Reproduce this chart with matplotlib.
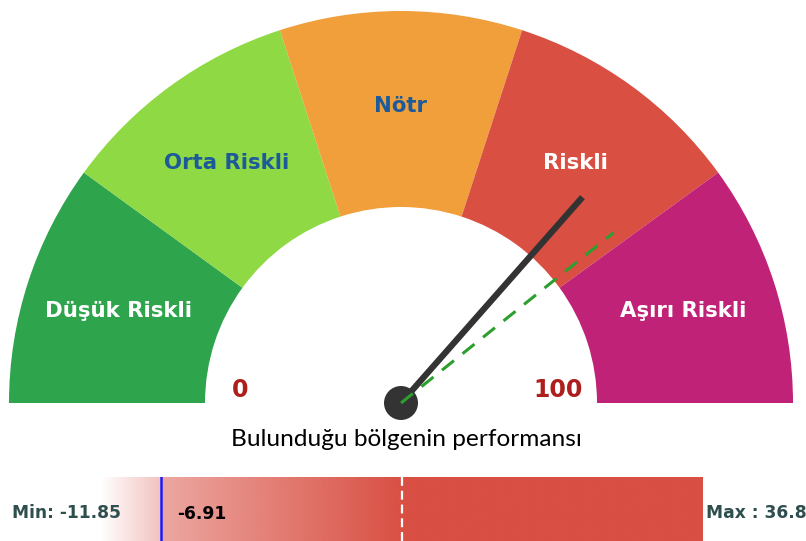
import numpy as np
import matplotlib
matplotlib.use("Agg")
import matplotlib.pyplot as plt
from matplotlib.patches import Wedge, Circle
from matplotlib.colors import to_rgb

# ===================== DATA =====================
zone_labels = ["Düşük Riskli", "Orta Riskli", "Nötr", "Riskli", "Aşırı Riskli"]
zone_bounds = [0, 20, 40, 60, 80, 100]
zone_colors = ["#2ea44d", "#8fd944", "#f09f3a", "#d94f42", "#c02277"]
zone_text_colors = ["white", "#1c5a9a", "#1c5a9a", "white", "white"]

needle_value = 73.0      # black needle
target_value = 78.5      # green dashed marker
gauge_min, gauge_max = 0, 100

title_text = "Bulunduğu bölgenin performansı"

bar_min = -11.85
bar_max = 36.8
bar_value = -6.91

# ===================== LAYOUT (pixels) =====================
W, H = 806, 541
CX, CY = 401, 403
R_OUT, R_IN = 392, 196


def val_to_angle(v):
    return 180.0 - (v - gauge_min) / (gauge_max - gauge_min) * 180.0


fig = plt.figure(figsize=(W / 100, H / 100), dpi=100)

# ===================== PERFORMANCE BAR (drawn underneath) =====================
bx0, bx1, by0 = 100, 703, 477
bax = fig.add_axes([bx0 / W, 0, (bx1 - bx0) / W, (H - by0) / H])
bax.set_zorder(0)
bax.set_xlim(bar_min, bar_max)
bax.set_ylim(0, 1)
bax.axis("off")

mid = (bar_min + bar_max) / 2
xs = np.linspace(bar_min, bar_max, 600)
alpha = np.where(xs < bar_value, 0.35 * (xs - bar_min) / (bar_value - bar_min),
                 np.where(xs < mid, 0.5 + 0.5 * (xs - bar_value) / (mid - bar_value), 1.0))
rgba = np.zeros((1, len(xs), 4))
rgba[0, :, :3] = to_rgb("#d94f43")
rgba[0, :, 3] = alpha
bax.imshow(rgba, extent=[bar_min, bar_max, 0, 1], aspect="auto", interpolation="bilinear")
bax.axvline(bar_value, color="#1a1aff", lw=1.8)
bax.axvline(mid, color="white", lw=1.6, linestyle=(0, (4, 2.2)))

# ===================== GAUGE =====================
ax = fig.add_axes([0, 0, 1, 1])
ax.set_zorder(1)
ax.set_xlim(0, W)
ax.set_ylim(H, 0)
ax.set_aspect("equal")
ax.axis("off")

# gauge segments (y axis inverted -> use negative angles)
for i, lab in enumerate(zone_labels):
    a1 = val_to_angle(zone_bounds[i])
    a2 = val_to_angle(zone_bounds[i + 1])
    ax.add_patch(Wedge((CX, CY), R_OUT, -a1, -a2, width=R_OUT - R_IN,
                       facecolor=zone_colors[i], edgecolor="none"))
    amid = np.radians((a1 + a2) / 2)
    rmid = (R_OUT + R_IN) / 2 + 3
    ax.text(CX + rmid * np.cos(amid), CY - rmid * np.sin(amid), lab,
            ha="center", va="center", fontsize=15.3, fontweight="bold",
            color=zone_text_colors[i], family="DejaVu Sans")

# min / max labels of gauge
ax.text(240.5, 390, str(gauge_min), ha="center", va="center", fontsize=17,
        fontweight="bold", color="#ad1f1c")
ax.text(558, 390, str(gauge_max), ha="center", va="center", fontsize=17,
        fontweight="bold", color="#ad1f1c")

# needle
a = np.radians(val_to_angle(needle_value))
L = 0.70 * R_OUT
ax.plot([CX, CX + L * np.cos(a)], [CY, CY - L * np.sin(a)],
        color="#333333", lw=4.5, solid_capstyle="butt", zorder=5)
ax.add_patch(Circle((CX, CY), 17, facecolor="#333333", edgecolor="none", zorder=6))

# target marker
a = np.radians(val_to_angle(target_value))
L = 0.695 * R_OUT
ax.plot([CX, CX + L * np.cos(a)], [CY, CY - L * np.sin(a)],
        color="#2e9e2e", lw=2.2, linestyle=(0, (5.0, 3.6)), zorder=7)

ax.text(406, 439, title_text, ha="center", va="center", fontsize=17.6,
        family="Lato", color="black")

# bar labels
ax.text(12, 513, f"Min: {bar_min}", ha="left", va="center", fontsize=12.3,
        fontweight="bold", color="#2f4f4f")
ax.text(706, 513, f"Max : {bar_max}", ha="left", va="center", fontsize=12.3,
        fontweight="bold", color="#2f4f4f")
ax.text(177, 514, f"{bar_value}", ha="left", va="center", fontsize=12.3,
        fontweight="bold", color="black")

fig.savefig("out.png", dpi=100)
